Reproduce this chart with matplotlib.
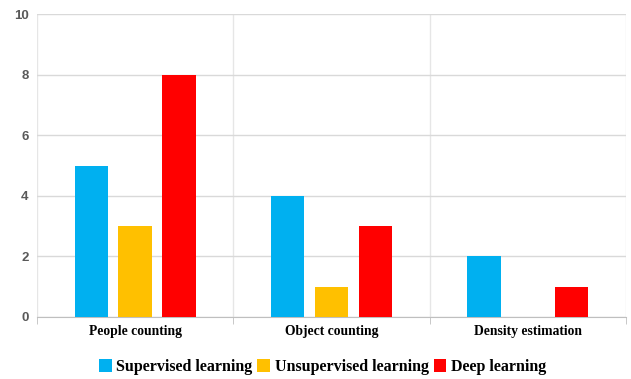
import numpy as np
import matplotlib
matplotlib.use("Agg")
import matplotlib.pyplot as plt

# chart data
categories = ["People counting", "Object counting", "Density estimation"]
series_names = ["Supervised learning", "Unsupervised learning", "Deep learning"]
supervised = [5, 4, 2]
unsupervised = [3, 1, 0]
deep = [8, 3, 1]
y_ticks = [0, 2, 4, 6, 8, 10]

colors = ["#00B0F0", "#FFC000", "#FF0000"]

fig = plt.figure(figsize=(6.31, 3.79), dpi=100)
ax = fig.add_axes([0.0586, 0.1636, 0.9334, 0.7994])

x = np.arange(len(categories))
width = 0.17
offsets = [-0.223, 0.0, 0.223]
for values, name, color, off in zip([supervised, unsupervised, deep], series_names, colors, offsets):
    ax.bar(x + off, values, width, color=color, label=name, zorder=3)

ax.set_xlim(-0.5, len(categories) - 0.5)
ax.set_ylim(0, 10)
ax.set_yticks(y_ticks)
ax.set_yticklabels([str(t) for t in y_ticks], fontsize=9.5, fontweight="bold",
                   color="#595959", family="Liberation Sans")
ax.set_xticks(x)
ax.set_xticklabels(categories, fontsize=9.8, fontweight="bold", family="Liberation Serif")
ax.set_xticks(np.arange(len(categories) + 1) - 0.5, minor=True)

# light grid in both directions, category separators as vertical lines
ax.grid(axis="y", color="#d9d9d9", linewidth=1, zorder=0)
ax.grid(axis="x", which="minor", color="#e6e6e6", linewidth=1, zorder=0)
ax.tick_params(axis="x", which="major", length=0, pad=6)
ax.tick_params(axis="x", which="minor", length=5, color="#bfbfbf")
ax.tick_params(axis="y", length=0, pad=6)
for side in ["top", "right", "left"]:
    ax.spines[side].set_visible(False)
ax.spines["bottom"].set_color("#bfbfbf")

ax.legend(loc="center", bbox_to_anchor=(0.485, -0.165), ncol=3, frameon=False,
          prop={"family": "Liberation Serif", "weight": "bold", "size": 11.5},
          handlelength=0.8, handleheight=0.8, handletextpad=0.3, columnspacing=0.3)

fig.savefig("out.png", dpi=100)
